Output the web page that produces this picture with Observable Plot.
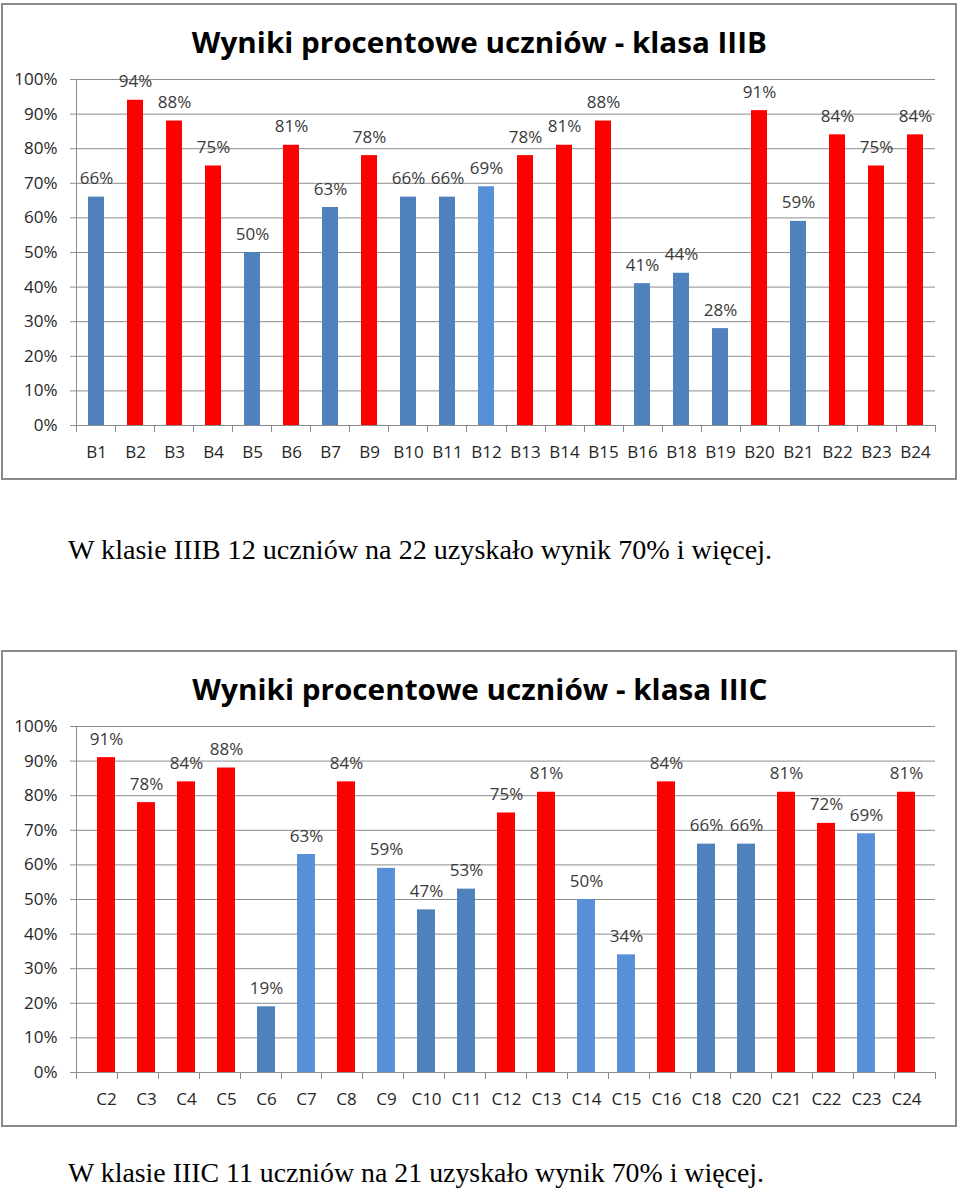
<!DOCTYPE html>
<html><head><meta charset="utf-8">
<script src="https://cdn.jsdelivr.net/npm/d3@7"></script>
<script src="https://cdn.jsdelivr.net/npm/@observablehq/plot@0.6"></script>
<style>
body{margin:0;background:#fff;width:960px;height:1189px;position:relative;overflow:hidden}
.box{position:absolute;left:1px;width:956px;height:477px;border:2px solid #8a8a8a;box-sizing:border-box;z-index:2;pointer-events:none}
.title{position:absolute;left:0;width:959px;text-align:center;line-height:29px;white-space:nowrap}
.title span{display:inline-block;font:bold 29px "Open Sans";line-height:29px;color:#000;transform-origin:50% 50%}
.caption{position:absolute;left:68px;line-height:28px;white-space:nowrap}
.caption span{display:inline-block;font:28px "Liberation Serif";line-height:28px;color:#000;transform-origin:0 50%}
.chart{position:absolute;left:0;z-index:1}
</style></head>
<body>
<div id="root"></div>
<script>
// ---- data ----
const titleB = "Wyniki procentowe uczniów - klasa IIIB";
const catsB = ["B1","B2","B3","B4","B5","B6","B7","B9","B10","B11","B12","B13","B14","B15","B16","B18","B19","B20","B21","B22","B23","B24"];
const valsB = [66,94,88,75,50,81,63,78,66,66,69,78,81,88,41,44,28,91,59,84,75,84];
const lighterB = ["B12"];
const captionB = "W klasie IIIB 12 uczniów na 22 uzyskało wynik 70% i więcej.";

const titleC = "Wyniki procentowe uczniów - klasa IIIC";
const catsC = ["C2","C3","C4","C5","C6","C7","C8","C9","C10","C11","C12","C13","C14","C15","C16","C18","C20","C21","C22","C23","C24"];
const valsC = [91,78,84,88,19,63,84,59,47,53,75,81,50,34,84,66,66,81,72,69,81];
const lighterC = ["C7","C9","C14","C15","C23"];
const captionC = "W klasie IIIC 11 uczniów na 21 uzyskało wynik 70% i więcej.";

const yTicks = [0,10,20,30,40,50,60,70,80,90,100];
const threshold = 70;

// ---- styles ----
const RED = "#ff0000", BLUE = "#4f81bd", LBLUE = "#5890d8", GRID = "#8c8c8c", TEXT = "#262626", LABEL = "#3a3a3a";

const root = document.getElementById("root");

function addDiv(cls, top, text, targetW, center) {
  const d = document.createElement("div");
  d.className = cls; d.style.top = top + "px";
  const s = document.createElement("span"); s.textContent = text;
  d.appendChild(s); root.appendChild(d);
  const w = s.getBoundingClientRect().width;
  if (w > 0) s.style.transform = `scaleX(${targetW / w})`;
  return d;
}

function frameMark(index, scales, values, dimensions) {
  const {marginLeft, marginRight, marginTop, marginBottom, width, height} = dimensions;
  const x0 = marginLeft, x1 = width - marginRight, yb = height - marginBottom;
  const n = scales.x.domain().length;
  const g = d3.create("svg:g").attr("stroke", GRID).attr("fill", "none").attr("stroke-width", 1);
  g.append("line").attr("x1", x0 + 0.5).attr("x2", x0 + 0.5).attr("y1", marginTop).attr("y2", yb + 7);
  for (let i = 0; i <= n; i++) {
    const xx = Math.round(x0 + i * (x1 - x0) / n) + 0.5;
    g.append("line").attr("x1", xx).attr("x2", xx).attr("y1", yb).attr("y2", yb + 7);
  }
  return g.node();
}

function chart(cats, vals, lighter, padIn) {
  const data = cats.map((c, i) => ({cat: c, v: vals[i]}));
  return Plot.plot({
    width: 958, height: 415, marginTop: 19, marginBottom: 50, marginLeft: 76, marginRight: 23,
    style: {background: "transparent", fontFamily: "Open Sans", fontSize: "17px", color: TEXT},
    x: {domain: cats, paddingInner: padIn, paddingOuter: padIn / 2, align: 0.5, label: null},
    y: {domain: [0, 100], label: null},
    marks: [
      Plot.gridY(yTicks, {stroke: GRID, strokeOpacity: 1}),
      Plot.axisY(yTicks, {tickSize: 6, tickPadding: 13, tickFormat: d => d + "%", stroke: GRID, strokeOpacity: 1, fill: TEXT, label: null}),
      Plot.axisX({tickSize: 0, tickPadding: 20, label: null, fill: TEXT}),
      Plot.barY(data, {x: "cat", y: "v", fill: d => d.v >= threshold ? RED : (lighter.includes(d.cat) ? LBLUE : BLUE)}),
      Plot.text(data, {x: "cat", y: "v", text: d => d.v + "%", dy: -13, lineAnchor: "bottom", fill: LABEL, fontSize: 17}),
      frameMark
    ]
  });
}

function place(svg, top) {
  svg.classList.add("chart");
  svg.style.position = "absolute"; svg.style.top = top + "px"; svg.style.left = "0px";
  root.appendChild(svg);
}

// chart B
const boxB = document.createElement("div"); boxB.className = "box"; boxB.style.top = "3px"; root.appendChild(boxB);
addDiv("title", 53 - 25.75, titleB, 575);
place(chart(catsB, valsB, lighterB, 0.59), 60);
addDiv("caption", 559 - 23.5, captionB, 704);

// chart C
const boxC = document.createElement("div"); boxC.className = "box"; boxC.style.top = "650px"; root.appendChild(boxC);
addDiv("title", 700 - 25.75, titleC, 575);
place(chart(catsC, valsC, lighterC, 0.56), 707);
addDiv("caption", 1182 - 23.5, captionC, 696);
</script>
</body></html>
